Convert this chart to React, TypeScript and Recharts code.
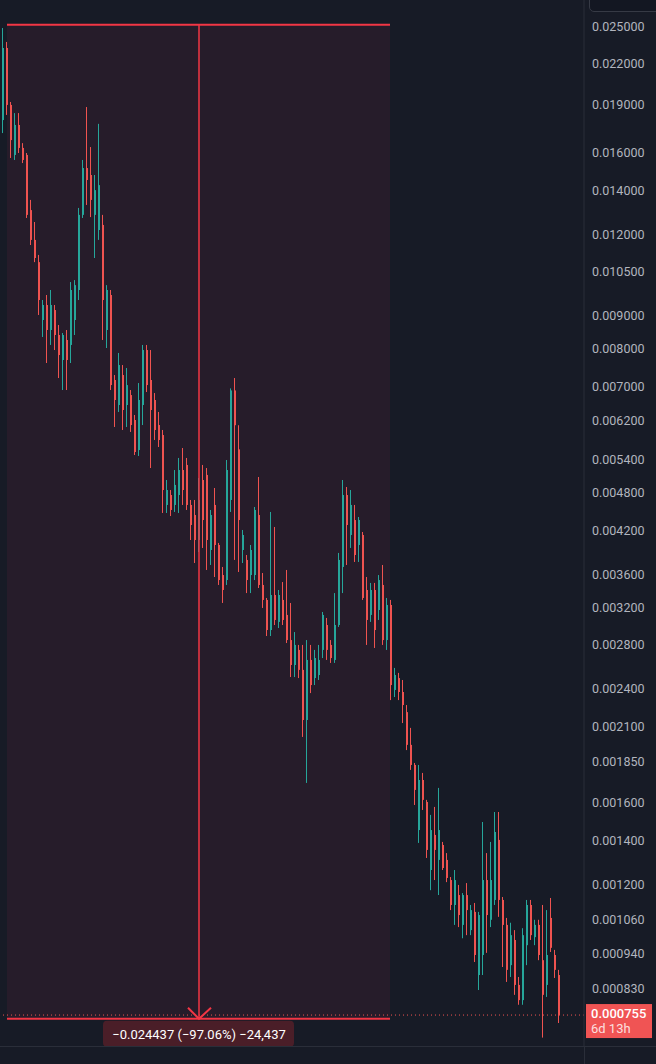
import {
  ComposedChart,
  Bar,
  XAxis,
  YAxis,
  ReferenceArea,
  ReferenceLine,
  ReferenceDot,
} from 'recharts';

// OHLC per candle (log price axis)
const opens = [
  0.01798, 0.02321, 0.01897, 0.01589, 0.01767, 0.01629, 0.01589, 0.01307, 0.01176, 0.01087,
  0.008855, 0.009339, 0.008547, 0.009174, 0.008397, 0.007685, 0.00825, 0.008106, 0.008855, 0.009848,
  0.01285, 0.01517, 0.0148, 0.01285, 0.01218, 0.0124, 0.008547, 0.009675, 0.00716, 0.006553,
  0.007287, 0.006553, 0.006788, 0.006214, 0.005587, 0.006553, 0.007962, 0.00716, 0.00667, 0.006104,
  0.005892, 0.004599, 0.004764, 0.004599, 0.004764, 0.005205, 0.005299, 0.004599, 0.004438, 0.004062,
  0.005024, 0.005115, 0.003921, 0.004599, 0.003991, 0.003588, 0.003525, 0.004681, 0.0069, 0.0056,
  0.003921, 0.003785, 0.003588, 0.003588, 0.004438, 0.003464, 0.003285, 0.002953, 0.003343, 0.003039,
  0.003285, 0.003115, 0.00285, 0.002609, 0.002752, 0.002564, 0.002147, 0.002656, 0.002491, 0.002518,
  0.002752, 0.003006, 0.002801, 0.002656, 0.003006, 0.003692, 0.004764, 0.004135, 0.00436, 0.003991,
  0.004135, 0.003403, 0.003115, 0.003403, 0.00317, 0.003464, 0.00285, 0.003227, 0.002388, 0.002491,
  0.002371, 0.002208, 0.001966, 0.001831, 0.001454, 0.001736, 0.001606, 0.001262, 0.001429, 0.001308,
  0.001379, 0.001308, 0.001218, 0.001115, 0.001155, 0.001039, 0.001155, 0.00102, 0.001088, 0.00087,
  0.000934, 0.001218, 0.001058, 0.001135, 0.001404, 0.001135, 0.001039, 0.000901, 0.000985, 0.00084,
  0.000796, 0.000967, 0.001115, 0.000995, 0.001039, 0.000917, 0.00084, 0.001065, 0.000934, 0.00087,
];

const highs = [
  0.02491, 0.02371, 0.01917, 0.01843, 0.01843, 0.01657, 0.016, 0.01355, 0.01253, 0.01115,
  0.009505, 0.009675, 0.009848, 0.009339, 0.0087, 0.008456, 0.008547, 0.01013, 0.0102, 0.01317,
  0.01561, 0.01883, 0.01634, 0.0148, 0.01774, 0.01285, 0.01002, 0.009848, 0.007287, 0.007879,
  0.00755, 0.00747, 0.00691, 0.006325, 0.007083, 0.008106, 0.008106, 0.007962, 0.006837, 0.006393,
  0.005998, 0.005024, 0.004849, 0.005205, 0.005432, 0.005627, 0.005432, 0.004681, 0.004681, 0.00506,
  0.005299, 0.005242, 0.004518, 0.004884, 0.00402, 0.003692, 0.005393, 0.00695, 0.00721, 0.0061,
  0.004209, 0.003852, 0.003991, 0.004566, 0.005078, 0.003614, 0.003308, 0.004486, 0.004254, 0.003403,
  0.0035, 0.003653, 0.00325, 0.002932, 0.002801, 0.002801, 0.00285, 0.002801, 0.002752, 0.002801,
  0.003148, 0.003082, 0.00285, 0.003366, 0.00388, 0.005024, 0.004901, 0.004849, 0.004599, 0.004407,
  0.004179, 0.003563, 0.003489, 0.003489, 0.003588, 0.003718, 0.003308, 0.003285, 0.002582, 0.002537,
  0.002474, 0.002264, 0.002088, 0.001844, 0.001831, 0.00178, 0.001618, 0.001534, 0.001578, 0.001688,
  0.001394, 0.00134, 0.001231, 0.001262, 0.001197, 0.001163, 0.001205, 0.001115, 0.001123, 0.001088,
  0.001496, 0.00134, 0.001394, 0.00155, 0.00155, 0.001147, 0.001065, 0.001047, 0.00102, 0.000864,
  0.001027, 0.001135, 0.001135, 0.001058, 0.001058, 0.001115, 0.001095, 0.001143, 0.000951, 0.000886,
];

const lows = [
  0.01717, 0.01831, 0.01572, 0.01561, 0.016, 0.01544, 0.01271, 0.01155, 0.01087, 0.009014,
  0.008338, 0.007604, 0.008106, 0.007962, 0.00721, 0.00691, 0.00691, 0.007604, 0.008397, 0.009505,
  0.01271, 0.01331, 0.01275, 0.01103, 0.01176, 0.00825, 0.008019, 0.00691, 0.006062, 0.006393,
  0.005998, 0.006062, 0.005956, 0.005489, 0.00547, 0.006104, 0.006861, 0.005242, 0.005789, 0.005647,
  0.00447, 0.00447, 0.004422, 0.004486, 0.00447, 0.004599, 0.004518, 0.004062, 0.003744, 0.003893,
  0.003949, 0.003653, 0.003718, 0.003563, 0.003464, 0.00325, 0.003464, 0.004486, 0.003785, 0.003627,
  0.003744, 0.003366, 0.003366, 0.003525, 0.003427, 0.003193, 0.002891, 0.002891, 0.003006, 0.002974,
  0.003006, 0.00282, 0.0025, 0.0025, 0.002491, 0.002022, 0.001718, 0.002362, 0.00243, 0.002474,
  0.002674, 0.002656, 0.002628, 0.002628, 0.002985, 0.003366, 0.003718, 0.003949, 0.003758, 0.003758,
  0.003285, 0.002801, 0.003039, 0.002771, 0.00306, 0.002801, 0.002752, 0.002304, 0.002329, 0.002304,
  0.002124, 0.00193, 0.001799, 0.001589, 0.001389, 0.001561, 0.001317, 0.001175, 0.001218, 0.001155,
  0.001262, 0.001209, 0.001095, 0.001039, 0.001031, 0.000991, 0.001002, 0.001002, 0.000911, 0.000825,
  0.00087, 0.000941, 0.001031, 0.001115, 0.001069, 0.000895, 0.000849, 0.000864, 0.000811, 0.000783,
  0.000783, 0.000901, 0.000985, 0.000967, 0.000917, 0.000697, 0.000805, 0.000944, 0.000861, 0.000734,
];

const closes = [
  0.02321, 0.01897, 0.01675, 0.01767, 0.01629, 0.01561, 0.01285, 0.01176, 0.01103, 0.009505,
  0.009339, 0.008547, 0.009339, 0.008397, 0.007822, 0.008397, 0.007685, 0.009848, 0.01002, 0.01285,
  0.01517, 0.01454, 0.01355, 0.01403, 0.01428, 0.009505, 0.009848, 0.007033, 0.00667, 0.00755,
  0.006438, 0.007033, 0.006104, 0.005548, 0.00667, 0.007962, 0.007033, 0.006438, 0.005998, 0.005789,
  0.004849, 0.004849, 0.004518, 0.004937, 0.005205, 0.004849, 0.004599, 0.004284, 0.004062, 0.004681,
  0.00436, 0.004062, 0.004438, 0.003991, 0.003525, 0.003403, 0.005205, 0.0069, 0.0061, 0.00436,
  0.004135, 0.003525, 0.003921, 0.004518, 0.003464, 0.003285, 0.002953, 0.003343, 0.00306, 0.003343,
  0.00306, 0.00285, 0.002609, 0.002801, 0.002564, 0.002147, 0.002656, 0.00243, 0.002674, 0.002656,
  0.003115, 0.002752, 0.002674, 0.003006, 0.003785, 0.004764, 0.004284, 0.004599, 0.003852, 0.00436,
  0.003308, 0.00306, 0.003403, 0.002953, 0.003525, 0.00285, 0.003227, 0.00243, 0.002518, 0.002371,
  0.002264, 0.001966, 0.001831, 0.001676, 0.001736, 0.001618, 0.001355, 0.001454, 0.001355, 0.001454,
  0.001271, 0.001227, 0.001115, 0.001218, 0.001076, 0.001155, 0.001095, 0.001095, 0.000934, 0.001076,
  0.001218, 0.001076, 0.001218, 0.001444, 0.001135, 0.001039, 0.000886, 0.001002, 0.00084, 0.000796,
  0.001002, 0.001115, 0.001002, 0.001039, 0.000934, 0.000811, 0.000934, 0.000958, 0.000886, 0.000755,
];

const priceTicks = [
  0.025, 0.022, 0.019, 0.016, 0.014, 0.012, 0.0105, 0.009, 0.008, 0.007, 0.0062, 0.0054, 0.0048,
  0.0042, 0.0036, 0.0032, 0.0028, 0.0024, 0.0021, 0.00185, 0.0016, 0.0014, 0.0012, 0.00106,
  0.00094, 0.00083,
];

// measure tool: start / end price and the bar range it covers
const measureStart = 0.025192;
const measureEnd = 0.000745;
const measureFrom = 1.25;
const measureTo = 97;
const measureMid = 49.25;
const measureText = '\u22120.024437 (\u221297.06%) \u221224,437';
const lastPrice = 0.000755;
const lastCountdown = '6d 13h';

const UP = '#26a69a';
const DOWN = '#ef5350';
const BG = '#171b26';
const GRID_LINE = '#2a2e39';

const data = opens.map((o, i) => ({ i, o, h: highs[i], l: lows[i], c: closes[i] }));

function Candle(props: any) {
  const { x, y, width, height, payload } = props;
  if (!payload || y == null) return null;
  const { o, h, l, c } = payload;
  const cx = Math.round(x + width / 2);
  const span = Math.log(h) - Math.log(l);
  const py = (v: number) => (span > 0 ? y + (height * (Math.log(h) - Math.log(v))) / span : y);
  const color = c >= o ? UP : DOWN;
  const top = py(Math.max(o, c));
  const bot = py(Math.min(o, c));
  return (
    <g>
      <line x1={cx + 0.5} x2={cx + 0.5} y1={y} y2={y + height} stroke={color} strokeWidth={1} />
      <rect x={cx} y={top} width={2} height={Math.max(1, bot - top)} fill={color} />
    </g>
  );
}

function MeasureTip({ cx, cy }: { cx: number; cy: number }) {
  return (
    <g>
      <polyline
        points={`${cx - 11},${cy - 11} ${cx},${cy} ${cx + 12},${cy - 11}`}
        fill="none"
        stroke="#f23645"
        strokeWidth={2}
      />
      <rect x={cx - 96} y={cy + 2} width={191} height={26} rx={4} fill="#4a1e28" />
      <text x={cx} y={cy + 20} textAnchor="middle" fill="#ffffff" fontSize={13} fontFamily="Roboto">
        {measureText}
      </text>
    </g>
  );
}

function PriceTag({ cx, cy }: { cx: number; cy: number }) {
  return (
    <g fontFamily="Roboto" fontSize={13}>
      <rect x={cx + 2} y={cy - 11} width={66} height={34} fill="#f05454" />
      <text x={cx + 7} y={cy + 3} fill="#ffffff" fontWeight={500}>
        {lastPrice.toFixed(6)}
      </text>
      <text x={cx + 7} y={cy + 18} fill="rgba(255,255,255,0.82)">
        {lastCountdown}
      </text>
    </g>
  );
}

export default function App() {
  return (
    <div style={{ position: 'absolute', left: 0, top: 0, width: 656, height: 1064, background: BG, overflow: 'hidden' }}>
      <ComposedChart width={656} height={1064} data={data} margin={{ top: 0, right: 0, bottom: 18, left: 0 }}>
        <XAxis type="number" dataKey="i" domain={[-0.5, 145.5]} hide allowDataOverflow />
        <YAxis
          orientation="right"
          width={72}
          scale="log"
          domain={[0.0006766, 0.02751]}
          allowDataOverflow
          ticks={priceTicks}
          interval={0}
          tickFormatter={(v: number) => v.toFixed(6)}
          tick={{ fill: '#b2b5be', fontSize: 12.5, fontFamily: 'Roboto' }}
          tickLine={false}
          axisLine={{ stroke: GRID_LINE }}
        />
        <ReferenceArea
          x1={measureFrom}
          x2={measureTo}
          y1={measureEnd}
          y2={measureStart}
          fill="#261c2a"
          fillOpacity={1}
          stroke="none"
        />
        <Bar
          dataKey={(d: any) => [d.l, d.h]}
          barSize={2}
          shape={Candle}
          isAnimationActive={false}
        />
        <ReferenceLine y={lastPrice} stroke={DOWN} strokeDasharray="1 3" />
        <ReferenceLine
          segment={[{ x: measureFrom, y: measureStart }, { x: measureTo, y: measureStart }]}
          stroke="#f23645"
          strokeWidth={2}
        />
        <ReferenceLine
          segment={[{ x: measureFrom, y: measureEnd }, { x: measureTo, y: measureEnd }]}
          stroke="#f23645"
          strokeWidth={2}
        />
        <ReferenceLine
          segment={[{ x: measureMid, y: measureStart }, { x: measureMid, y: measureEnd }]}
          stroke="#f23645"
          strokeWidth={1.5}
        />
        <ReferenceDot x={measureMid} y={measureEnd} r={0} shape={(p: any) => <MeasureTip cx={p.cx} cy={p.cy} />} />
        <ReferenceDot x={145.5} y={lastPrice} r={0} shape={(p: any) => <PriceTag cx={p.cx} cy={p.cy} />} />
      </ComposedChart>
      <div style={{ position: 'absolute', left: 0, top: 1046, width: 656, height: 1, background: GRID_LINE }} />
      <div style={{ position: 'absolute', left: 584, top: 1046, width: 1, height: 18, background: GRID_LINE }} />
      <div
        style={{
          position: 'absolute',
          left: 589,
          top: -1,
          width: 80,
          height: 11,
          background: '#131722',
          border: '1px solid #363a45',
          borderRadius: '0 0 0 5px',
        }}
      />
    </div>
  );
}
